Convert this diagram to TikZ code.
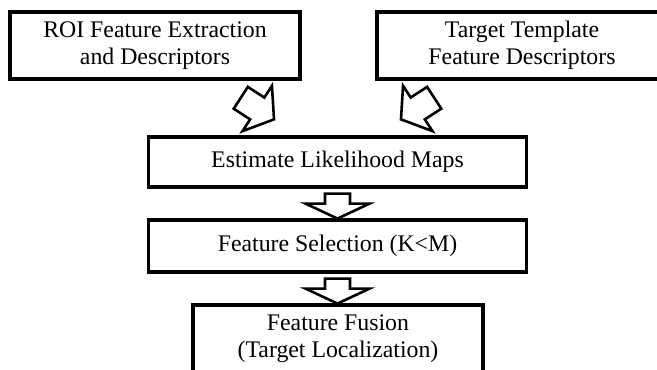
\documentclass[tikz,border=0pt]{standalone}
\usepackage{fontspec}
\setmainfont{Liberation Serif}
\begin{document}
\begin{tikzpicture}[x=1pt,y=-1pt,
  box/.style={draw, line width=3.2pt, align=center, inner sep=0pt,
    font=\fontsize{23.8}{27.5}\selectfont},
  blk/.style={draw, line width=2.6pt, fill=white, line join=miter},
  pics/blockarrow/.style args={#1/#2/#3/#4}{code={
    \draw[blk] (0,{#2/2}) -- ({#1-#4},{#2/2}) -- ({#1-#4},{#3/2}) -- (#1,0)
      -- ({#1-#4},{-#3/2}) -- ({#1-#4},{-#2/2}) -- (0,{-#2/2}) -- cycle;
  }}]
\useasboundingbox (0,0) rectangle (657,370);
\clip (0,0) rectangle (657,370);

\node[box, minimum width=290pt, minimum height=67pt] (roi) at (155,45.5)
  {ROI Feature Extraction\\and Descriptors};
\node[box, minimum width=290pt, minimum height=67pt] (tpl) at (522,45.5)
  {Target Template\\Feature Descriptors};
\node[box, minimum width=378pt, minimum height=50pt] (est) at (337.5,162)
  {Estimate Likelihood Maps};
\node[box, minimum width=378pt, minimum height=52pt] (sel) at (337.5,246)
  {Feature Selection (K<M)};
\node[box, minimum width=290pt, minimum height=67pt] (fus) at (338,338.5)
  {Feature Fusion\\(Target Localization)};

\coordinate (a1) at ([shift={(85.8,17.2)}]roi.south);
\coordinate (a2) at ([shift={(-87.8,17.2)}]tpl.south);
\pic[rotate=-33] at (a1) {blockarrow=39.6/26/54/20};
\pic[rotate=-147] at (a2) {blockarrow=39.6/26/54/20};
\pic[rotate=-90] at ([yshift=-5pt]est.south) {blockarrow=25/25/64/15};
\pic[rotate=-90] at ([yshift=-5pt]sel.south) {blockarrow=25/25/64/15};
\end{tikzpicture}
\end{document}
